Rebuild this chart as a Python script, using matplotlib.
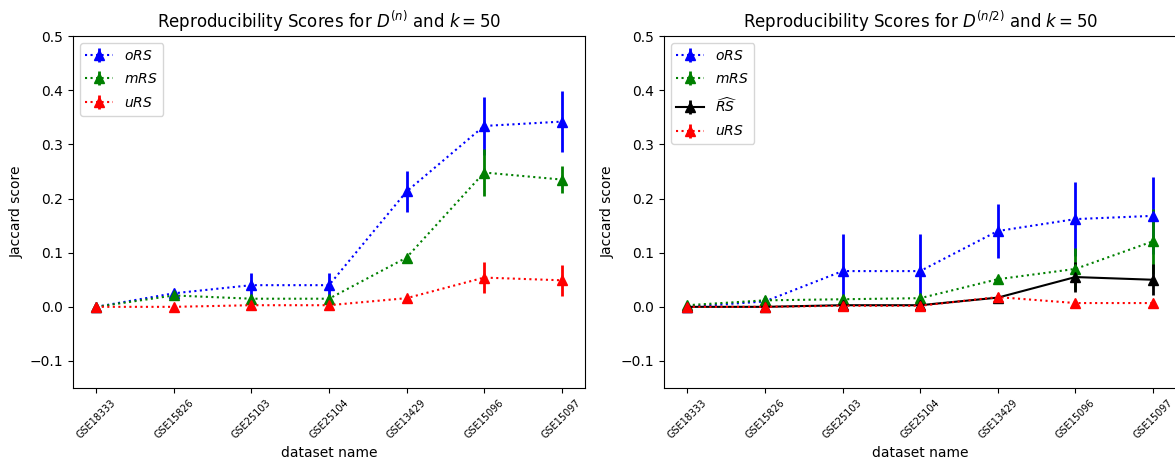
import numpy as np
import matplotlib.pyplot as plt

datasets = ["GSE18333", "GSE15826", "GSE25103", "GSE25104", "GSE13429", "GSE15096", "GSE15097"]

# panel izquierdo: D^(n)
ors_n = [0.0, 0.025, 0.040, 0.040, 0.213, 0.334, 0.342]
ors_n_err = [0.002, 0.005, 0.022, 0.022, 0.037, 0.054, 0.056]
mrs_n = [0.0, 0.021, 0.015, 0.015, 0.091, 0.248, 0.235]
mrs_n_err = [0.001, 0.003, 0.004, 0.004, 0.004, 0.043, 0.025]
urs_n = [0.0, 0.0, 0.003, 0.003, 0.016, 0.054, 0.049]
urs_n_err = [0.001, 0.001, 0.002, 0.002, 0.003, 0.028, 0.029]

# panel derecho: D^(n/2)
ors_h = [0.0, 0.010, 0.066, 0.066, 0.140, 0.162, 0.168]
ors_h_err = [0.002, 0.004, 0.068, 0.068, 0.050, 0.069, 0.071]
mrs_h = [0.003, 0.012, 0.014, 0.016, 0.051, 0.070, 0.121]
mrs_h_err = [0.001, 0.003, 0.003, 0.003, 0.004, 0.038, 0.060]
rs_hat = [0.0, 0.0, 0.003, 0.003, 0.017, 0.055, 0.050]
rs_hat_err = [0.001, 0.001, 0.001, 0.001, 0.002, 0.028, 0.029]
urs_h = [0.0, 0.0, 0.002, 0.002, 0.018, 0.007, 0.007]
urs_h_err = [0.001, 0.001, 0.001, 0.001, 0.002, 0.002, 0.002]

x = np.arange(len(datasets))
ekw = dict(elinewidth=2, markersize=7)

fig = plt.figure(figsize=(11.75, 4.62), dpi=100)
ax1 = fig.add_axes([0.0621, 0.160, 0.4358, 0.762])
ax2 = fig.add_axes([0.5651, 0.160, 0.4360, 0.762])

ax1.errorbar(x, ors_n, yerr=ors_n_err, fmt="^:", color="blue", label="$oRS$", **ekw)
ax1.errorbar(x, mrs_n, yerr=mrs_n_err, fmt="^:", color="green", label="$mRS$", **ekw)
ax1.errorbar(x, urs_n, yerr=urs_n_err, fmt="^:", color="red", label="$uRS$", **ekw)
ax1.set_title("Reproducibility Scores for $D^{(n)}$ and $k = 50$", fontsize=12)

ax2.errorbar(x, ors_h, yerr=ors_h_err, fmt="^:", color="blue", label="$oRS$", **ekw)
ax2.errorbar(x, mrs_h, yerr=mrs_h_err, fmt="^:", color="green", label="$mRS$", **ekw)
ax2.errorbar(x, rs_hat, yerr=rs_hat_err, fmt="^-", color="black", label=r"$\widehat{RS}$", **ekw)
ax2.errorbar(x, urs_h, yerr=urs_h_err, fmt="^:", color="red", label="$uRS$", **ekw)
ax2.set_title("Reproducibility Scores for $D^{(n/2)}$ and $k = 50$", fontsize=12)

for ax in (ax1, ax2):
    ax.set_ylim(-0.15, 0.5)
    ax.set_yticks([-0.1, 0.0, 0.1, 0.2, 0.3, 0.4, 0.5])
    ax.set_xticks(x)
    ax.set_xticklabels(datasets, rotation=45, fontsize=7)
    ax.set_xlabel("dataset name", fontsize=10)
    ax.set_ylabel("Jaccard score", fontsize=10)
    ax.legend(loc="upper left", fontsize=10, labelspacing=0.7)

plt.savefig("out.png", dpi=100, facecolor="white")
plt.close()
